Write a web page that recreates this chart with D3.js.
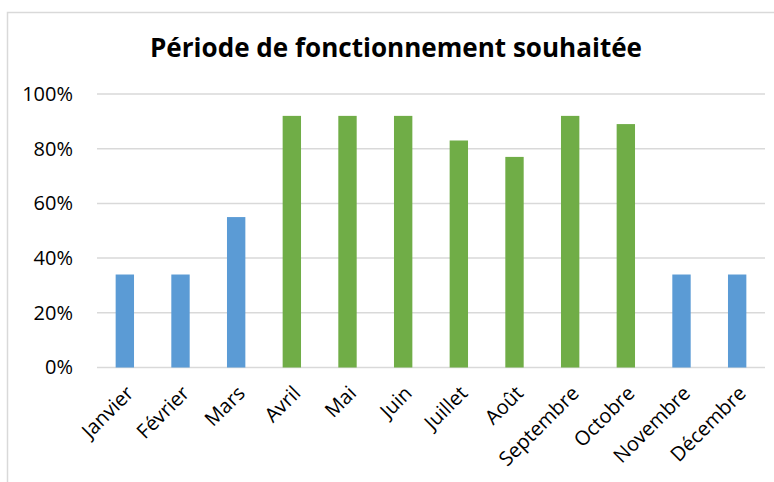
<!DOCTYPE html>
<html>
<head>
<meta charset="utf-8">
<script src="https://cdn.jsdelivr.net/npm/d3@7"></script>
<style>
  body { margin: 0; background: #fff; }
  text { font-family: "Open Sans", "Noto Sans", sans-serif; fill: #000; }
  .grid line { stroke: #d9d9d9; stroke-width: 1.5; }
</style>
</head>
<body>
<div id="vis"></div>
<script>
// Data
var months = ['Janvier', 'Février', 'Mars', 'Avril', 'Mai', 'Juin', 'Juillet', 'Août', 'Septembre', 'Octobre', 'Novembre', 'Décembre'];
var shares = [0.34, 0.34, 0.55, 0.92, 0.92, 0.92, 0.83, 0.77, 0.92, 0.89, 0.34, 0.34];
var season = ['off', 'off', 'off', 'on', 'on', 'on', 'on', 'on', 'on', 'on', 'off', 'off'];
var yTicks = [0, 0.2, 0.4, 0.6, 0.8, 1];
var title = 'Période de fonctionnement souhaitée';

var width = 774, height = 482;
var margin = { left: 97, right: 9, top: 94, bottom: 114.5 };
var drawWidth = width - margin.left - margin.right;
var drawHeight = height - margin.top - margin.bottom;

var svg = d3.select('#vis').append('svg')
    .attr('width', width)
    .attr('height', height);

// chart frame (runs off the right and bottom edges)
svg.append('rect')
    .attr('x', 7.5).attr('y', 12.5)
    .attr('width', 800).attr('height', 500)
    .attr('fill', 'none')
    .attr('stroke', '#d9d9d9')
    .attr('stroke-width', 1.5);

svg.append('text')
    .attr('x', 396).attr('y', 57)
    .attr('text-anchor', 'middle')
    .attr('textLength', 492)
    .attr('lengthAdjust', 'spacingAndGlyphs')
    .style('font-size', '27px')
    .style('font-weight', 'bold')
    .text(title);

var g = svg.append('g')
    .attr('transform', 'translate(' + margin.left + ',' + margin.top + ')');

var xScale = d3.scaleBand().domain(months).range([0, drawWidth]);
var yScale = d3.scaleLinear().domain([0, 1]).range([drawHeight, 0]);

// gridlines
g.append('g').attr('class', 'grid')
    .selectAll('line').data(yTicks).enter().append('line')
    .attr('x1', 0).attr('x2', drawWidth)
    .attr('y1', function(d) { return yScale(d); })
    .attr('y2', function(d) { return yScale(d); });

// y axis labels
var yAxis = d3.axisLeft(yScale).tickValues(yTicks).tickFormat(d3.format('.0%')).tickSize(0).tickPadding(24);
var yG = g.append('g').call(yAxis);
yG.select('.domain').remove();
yG.selectAll('text').style('font-size', '20px').style('font-family', '"Open Sans", sans-serif');

var barWidth = xScale.bandwidth() * 0.33;
g.selectAll('rect.bar').data(months).enter().append('rect')
    .attr('class', 'bar')
    .attr('x', function(d) { return xScale(d) + (xScale.bandwidth() - barWidth) / 2; })
    .attr('width', barWidth)
    .attr('y', function(d, i) { return yScale(shares[i]); })
    .attr('height', function(d, i) { return drawHeight - yScale(shares[i]); })
    .attr('fill', function(d, i) { return season[i] === 'on' ? '#70ad47' : '#5b9bd5'; });

// x axis labels, rotated
var xAxis = d3.axisBottom(xScale).tickSize(0).tickPadding(0);
var xG = g.append('g').attr('transform', 'translate(0,' + drawHeight + ')').call(xAxis);
xG.select('.domain').remove();
xG.selectAll('text')
    .style('font-size', '20px')
    .style('font-family', '"Open Sans", sans-serif')
    .attr('text-anchor', 'end')
    .attr('dy', 0)
    .attr('y', 0)
    .attr('transform', 'translate(10,27) rotate(-45)');
</script>
</body>
</html>
